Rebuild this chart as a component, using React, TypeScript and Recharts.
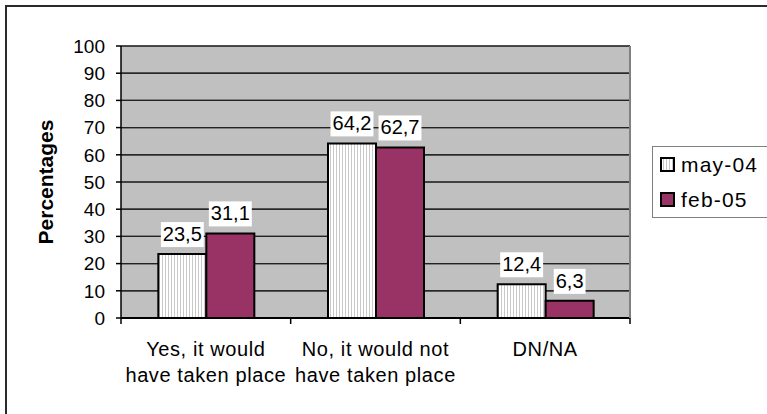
import React from "react";
import {
  BarChart,
  Bar,
  XAxis,
  YAxis,
  CartesianGrid,
  LabelList,
} from "recharts";

// chart values
const categories = ["Yes, it would\nhave taken place", "No, it would not\nhave taken place", "DN/NA"];
const may04 = [23.5, 64.2, 12.4];
const feb05 = [31.1, 62.7, 6.3];
const seriesNames = ["may-04", "feb-05"];
const yTicks = [0, 10, 20, 30, 40, 50, 60, 70, 80, 90, 100];

const data = categories.map((c, i) => ({ category: c, may04: may04[i], feb05: feb05[i] }));

const W = 767;
const H = 414;
const MARGIN = { top: 46, right: 136, bottom: 0, left: 0 };
const Y_AXIS_W = 121;
const X_AXIS_H = 96;
const FONT = '"Liberation Sans", Arial, sans-serif';
const MAROON = "#993366";

const fmt = (v: number) => v.toFixed(1).replace(".", ",");

// rough Arial width of a label
const textWidth = (s: string, fs: number) =>
  s.split("").reduce((acc, ch) => acc + (ch === "," ? 0.278 : 0.556), 0) * fs;

const plotW = W - MARGIN.left - MARGIN.right - Y_AXIS_W - 1;
const halfBand = plotW / categories.length / 2;

const ValueLabel = (props: any) => {
  const { x, y, width, value } = props;
  const txt = fmt(Number(value));
  const cx = x + width / 2;
  const w = textWidth(txt, 20) + 4;
  return (
    <g>
      <rect x={cx - w / 2} y={y - 32} width={w} height={25} fill="#fff" />
      <text x={cx} y={y - 13} textAnchor="middle" fontSize={20} fontFamily={FONT} fill="#000">
        {txt}
      </text>
    </g>
  );
};

const CategoryTick = (props: any) => {
  const { x, y, payload, index } = props;
  const lines = String(payload.value).split("\n");
  return (
    <g>
      <line x1={x - halfBand} x2={x - halfBand} y1={y} y2={y + 6} stroke="#000" strokeWidth={1.5} />
      {index === categories.length - 1 && (
        <line x1={x + halfBand} x2={x + halfBand} y1={y} y2={y + 6} stroke="#000" strokeWidth={1.5} />
      )}
      {lines.map((l, i) => (
        <text
          key={i}
          x={x}
          y={y + 38 + i * 26}
          textAnchor="middle"
          fontSize={20}
          letterSpacing={0.6}
          fontFamily={FONT}
          fill="#000"
        >
          {l}
        </text>
      ))}
    </g>
  );
};

// horizontal gridline, drawn from each y tick of the back layer
const GridTick = (props: any) => {
  const { x, y, payload } = props;
  if (payload.value === 0) return <g />;
  return <rect x={x} y={y - 0.6} width={plotW} height={1.2} fill="#222" />;
};

const PercentLabel = (props: any) => {
  const { viewBox } = props;
  const cy = MARGIN.top + (H - MARGIN.top - X_AXIS_H) / 2;
  return (
    <text
      x={viewBox.x + 45}
      y={cy}
      transform={`rotate(-90 ${viewBox.x + 45} ${cy})`}
      textAnchor="middle"
      dominantBaseline="central"
      fontSize={21}
      fontWeight="bold"
      fontFamily={FONT}
      fill="#000"
    >
      Percentages
    </text>
  );
};

const LegendBox = () => (
  <div
    style={{
      position: "absolute",
      left: 652,
      top: 146,
      borderTop: "1.5px solid #808080",
      borderBottom: "1.5px solid #808080",
      borderLeft: "1.5px solid #808080",
      width: 130,
      height: 72,
      boxSizing: "border-box",
      fontFamily: FONT,
      fontSize: 21,
      letterSpacing: 1.2,
      color: "#000",
      paddingTop: 3,
    }}
  >
    {seriesNames.map((name, i) => (
      <div key={name} style={{ display: "flex", alignItems: "center", height: 29, marginTop: i ? 6 : 0 }}>
        <svg width={16} height={16} style={{ marginLeft: 7, marginRight: 5 }}>
          <defs>
            <pattern id="legStripe" width={3} height={10} patternUnits="userSpaceOnUse">
              <rect width={3} height={10} fill="#fff" />
              <rect width={1} height={10} fill="#c8c8c8" />
            </pattern>
          </defs>
          <rect
            x={1}
            y={1}
            width={13}
            height={13}
            fill={i === 0 ? "url(#legStripe)" : MAROON}
            stroke="#000"
            strokeWidth={2}
          />
        </svg>
        <span>{name}</span>
      </div>
    ))}
  </div>
);

export default function App() {
  return (
    <div style={{ position: "absolute", left: 0, top: 0, width: W, height: H, background: "#fff", overflow: "hidden" }}>
      <div
        style={{
          position: "absolute",
          left: 5,
          top: 5,
          width: W,
          height: H,
          borderTop: "2px solid #2a2a2a",
          borderLeft: "2px solid #2a2a2a",
        }}
      />
      {/* back layer: plot background + gridlines (same series, invisible, so the axes match) */}
      <div style={{ position: "absolute", left: 0, top: 0 }}>
        <BarChart width={W} height={H} data={data} margin={MARGIN} barCategoryGap="22%" barGap={0}>
          <CartesianGrid vertical={false} horizontal={false} fill="#c0c0c0" fillOpacity={1} />
          <XAxis dataKey="category" height={X_AXIS_H} tick={false} tickLine={false} axisLine={false} />
          <YAxis
            width={Y_AXIS_W}
            domain={[0, 100]}
            ticks={yTicks}
            interval={0}
            axisLine={false}
            tickLine={false}
            tickSize={0}
            tickMargin={0}
            tick={<GridTick />}
          />
          <YAxis yAxisId="right" orientation="right" width={1} domain={[0, 100]} tick={false} tickLine={false} axisLine={false} />
          <Bar dataKey="may04" fill="transparent" isAnimationActive={false} />
          <Bar dataKey="feb05" fill="transparent" isAnimationActive={false} />
        </BarChart>
      </div>
      {/* front layer: bars, axes, labels */}
      <div style={{ position: "absolute", left: 0, top: 0 }}>
        <BarChart
          width={W}
          height={H}
          data={data}
          margin={MARGIN}
          barCategoryGap="22%"
          barGap={0}
        >
          <defs>
            <pattern id="vStripe" width={3} height={10} patternUnits="userSpaceOnUse">
              <rect width={3} height={10} fill="#fff" />
              <rect width={1} height={10} fill="#c8c8c8" />
            </pattern>
          </defs>
          <CartesianGrid vertical={false} stroke="#222" strokeWidth={1.2} />
          <XAxis
            dataKey="category"
            height={X_AXIS_H}
            axisLine={{ stroke: "#000", strokeWidth: 2 }}
            tickLine={false}
            tickSize={0}
            tickMargin={0}
            interval={0}
            tick={<CategoryTick />}
          />
          <YAxis
            width={Y_AXIS_W}
            domain={[0, 100]}
            ticks={yTicks}
            interval={0}
            axisLine={{ stroke: "#000", strokeWidth: 1.5 }}
            tickLine={{ stroke: "#000", strokeWidth: 1.5 }}
            tickSize={5}
            tickMargin={11}
            tick={{ fontSize: 19, fontFamily: FONT, fill: "#000" }}
            label={<PercentLabel />}
          />
          <YAxis
            yAxisId="right"
            orientation="right"
            width={1}
            domain={[0, 100]}
            tick={false}
            tickLine={false}
            axisLine={{ stroke: "#808080", strokeWidth: 2 }}
          />
          <Bar
            dataKey="may04"
            name={seriesNames[0]}
            fill="url(#vStripe)"
            stroke="#000"
            strokeWidth={2}
            isAnimationActive={false}
          >
            <LabelList dataKey="may04" content={<ValueLabel />} />
          </Bar>
          <Bar
            dataKey="feb05"
            name={seriesNames[1]}
            fill={MAROON}
            stroke="#000"
            strokeWidth={2}
            isAnimationActive={false}
          >
            <LabelList dataKey="feb05" content={<ValueLabel />} />
          </Bar>
        </BarChart>
      </div>
      <LegendBox />
    </div>
  );
}
